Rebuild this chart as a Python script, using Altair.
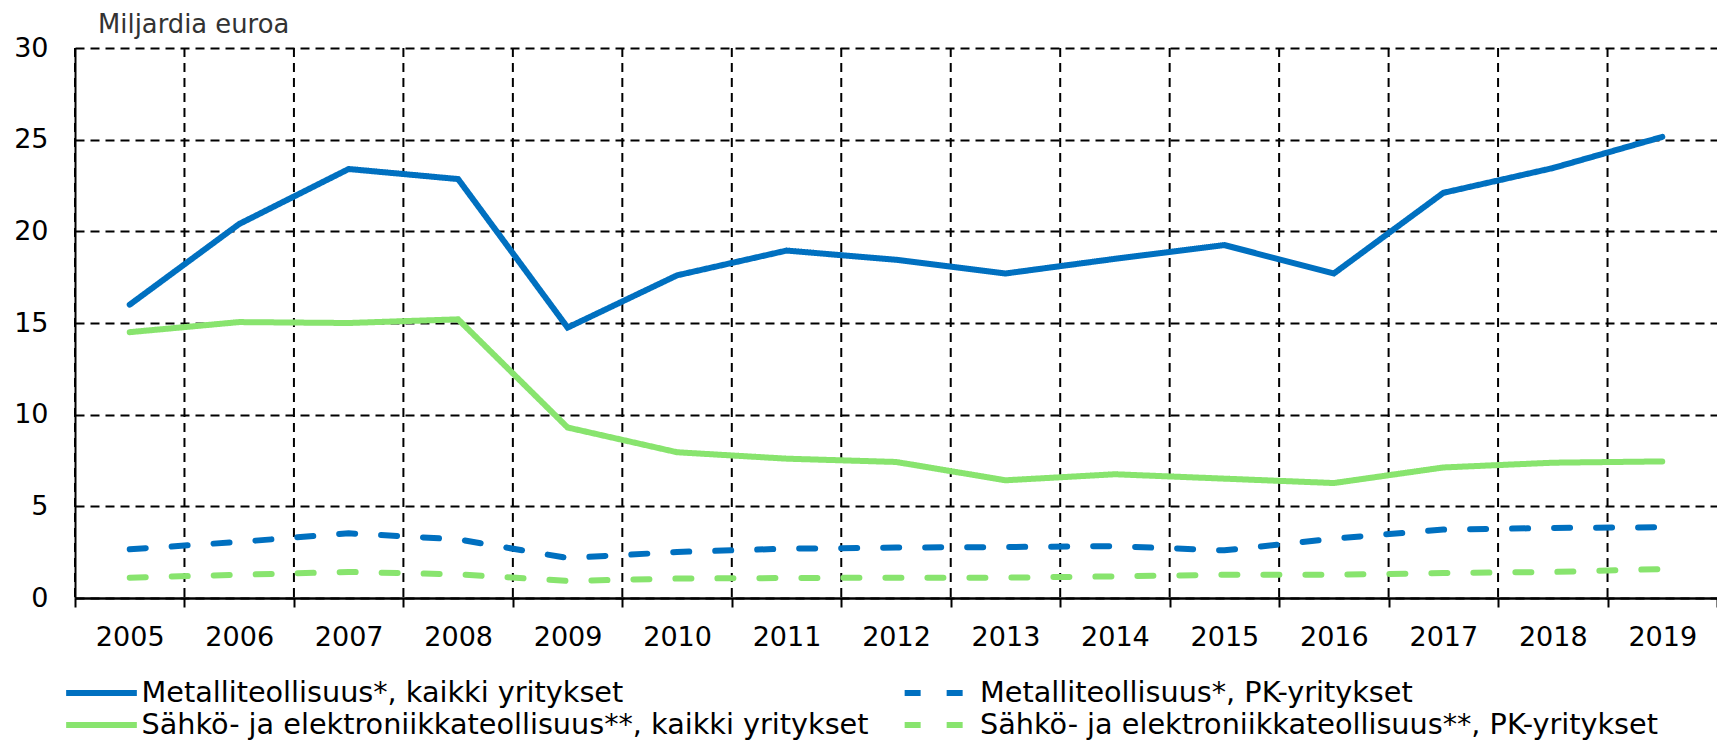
import altair as alt
import pandas as pd

years = [str(y) for y in range(2005, 2020)]
series_names = [
    "Metalliteollisuus*, kaikki yritykset",
    "Metalliteollisuus*, PK-yritykset",
    "Sähkö- ja elektroniikkateollisuus**, kaikki yritykset",
    "Sähkö- ja elektroniikkateollisuus**, PK-yritykset",
]
metal_all = [16.0, 20.4, 23.4, 22.85, 14.75, 17.6, 18.95, 18.45, 17.7, 18.5, 19.25, 17.7, 22.1, 23.45, 25.15]
metal_pk = [2.66, 3.06, 3.53, 3.2, 2.18, 2.51, 2.69, 2.75, 2.78, 2.83, 2.6, 3.24, 3.73, 3.82, 3.86]
sahko_all = [14.5, 15.05, 15.0, 15.2, 9.3, 7.95, 7.6, 7.42, 6.42, 6.75, 6.51, 6.27, 7.12, 7.38, 7.45]
sahko_pk = [1.11, 1.27, 1.42, 1.29, 0.93, 1.06, 1.09, 1.11, 1.11, 1.18, 1.27, 1.27, 1.36, 1.42, 1.58]

colors = ["#0070C0", "#0070C0", "#88E46E", "#88E46E"]
dashes = [[1, 0], [16, 26], [1, 0], [16, 26]]

rows = []
for name, vals in zip(series_names, [metal_all, metal_pk, sahko_all, sahko_pk]):
    for i, (yr, v) in enumerate(zip(years, vals)):
        rows.append({"Vuosi": yr, "Sarja": name, "Arvo": v, "order": i})
df = pd.DataFrame(rows)
df_years = pd.DataFrame({"Vuosi": years})

FONT = "DejaVu Sans"
xscale = alt.Scale(type="band", paddingInner=0, paddingOuter=0)
x_axis = alt.Axis(
    title=None,
    labelAngle=0,
    labelFont=FONT,
    labelFontSize=27,
    labelColor="#000000",
    labelPadding=17,
    tickBand="extent",
    ticks=True,
    tickSize=9,
    tickColor="#000000",
    tickWidth=2,
    domainColor="#000000",
    domainWidth=2.5,
    grid=False,
)

vgrid = (
    alt.Chart(df_years)
    .mark_rule(color="#000000", strokeWidth=2, strokeDash=[9, 6])
    .encode(x=alt.X("Vuosi:O", sort=years, scale=xscale, bandPosition=0, axis=x_axis))
)

lines = (
    alt.Chart(df)
    .mark_line(strokeWidth=6, strokeCap="round")
    .encode(
        x=alt.X("Vuosi:O", sort=years, scale=xscale, axis=x_axis),
        y=alt.Y(
            "Arvo:Q",
            scale=alt.Scale(domain=[0, 30], nice=False),
            axis=alt.Axis(
                title="Miljardia euroa",
                titleAngle=0,
                titleAlign="left",
                titleBaseline="alphabetic",
                titleX=22.6,
                titleY=-15.7,
                titleFont=FONT,
                titleFontSize=25.8,
                titleFontWeight="normal",
                titleColor="#333333",
                values=[0, 5, 10, 15, 20, 25, 30],
                labelFont=FONT,
                labelFontSize=27,
                labelColor="#000000",
                labelPadding=27,
                ticks=False,
                tickSize=0,
                domainColor="#000000",
                domainWidth=2,
                grid=True,
                gridColor="#000000",
                gridDash=[9, 6],
                gridWidth=2,
            ),
        ),
        color=alt.Color(
            "Sarja:N",
            scale=alt.Scale(domain=series_names, range=colors),
            sort=series_names,
            title=None,
        ),
        strokeDash=alt.StrokeDash(
            "Sarja:N",
            scale=alt.Scale(domain=series_names, range=dashes),
            sort=series_names,
            title=None,
        ),
        order="order:Q",
    )
)

chart = (
    alt.layer(vgrid, lines)
    .properties(
        width=1642,
        height=550,
        autosize=alt.AutoSizeParams(type="none"),
        padding={"left": 67, "top": 40, "right": 0, "bottom": 144},
        background="white",
    )
    .configure_view(stroke=None)
    .configure_legend(
        orient="none",
        legendX=-12,
        legendY=629,
        direction="horizontal",
        columns=2,
        columnPadding=32.5,
        rowPadding=0,
        clipHeight=32,
        symbolType="stroke",
        symbolSize=5000,
        symbolStrokeWidth=6,
        labelFont=FONT,
        labelFontSize=28.7,
        labelColor="#000000",
        labelOffset=1.5,
        labelLimit=2000,
        padding=0,
    )
)

chart.save("out.html", embed_options={"renderer": "svg", "actions": False})
